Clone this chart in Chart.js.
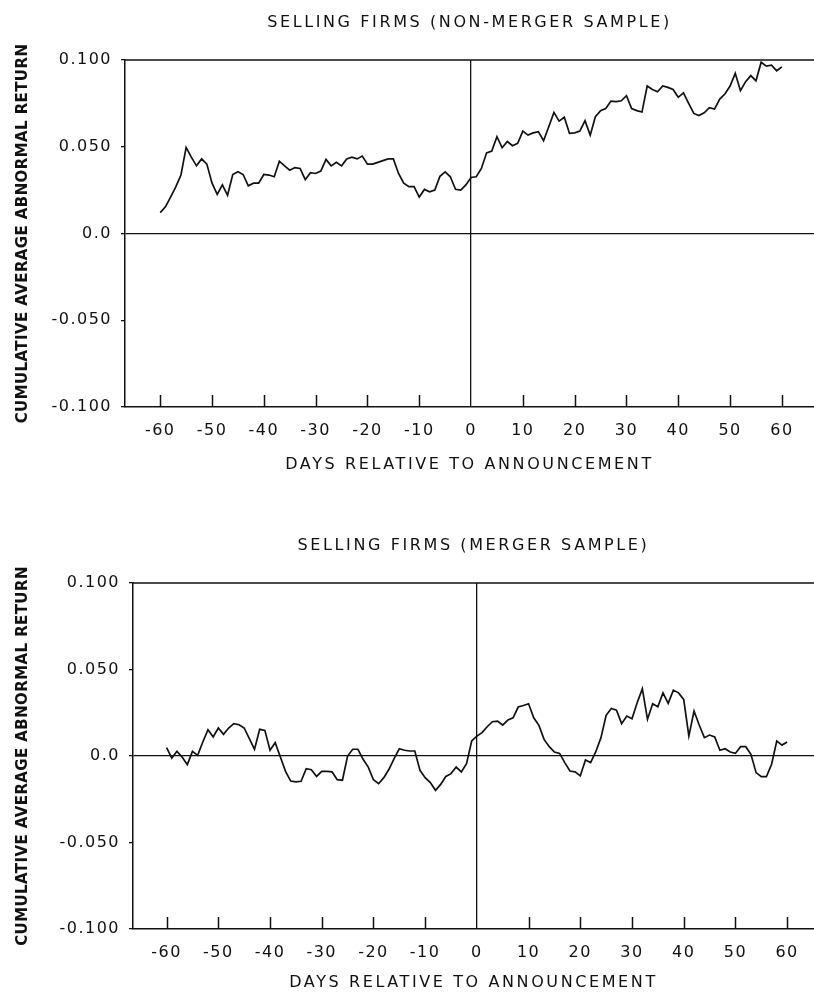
<!DOCTYPE html>
<html>
<head>
<meta charset="utf-8">
<title>Selling firms CAR</title>
<script src="https://cdn.jsdelivr.net/npm/chart.js@4"></script>
<style>
  body { margin: 0; background: #fff; width: 814px; height: 992px; overflow: hidden; position: relative; }
  .box { position: absolute; left: 0; width: 814px; }
</style>
</head>
<body>
<div class="box" style="top:0;height:477px"><canvas id="chartTop"></canvas></div>
<div class="box" style="top:523px;height:469px"><canvas id="chartBottom"></canvas></div>
<script>
// 横軸: 発表日からの日数
const days = [];
for (let d = -60; d <= 60; d++) days.push(d);
const xTicks = [-60, -50, -40, -30, -20, -10, 0, 10, 20, 30, 40, 50, 60];
const yTicks = [-0.1, -0.05, 0, 0.05, 0.1];
const yTickLabels = ["-0.100", "-0.050", "0.0", "0.050", "0.100"];

// 上: 非合併サンプル (day -60 .. 60)
const nonMerger = [
  0.012, 0.0154, 0.021, 0.0269, 0.0337, 0.0496, 0.044, 0.039, 0.043, 0.040,
  0.029, 0.0225, 0.028, 0.022, 0.034, 0.0356, 0.034, 0.0275, 0.029, 0.029,
  0.034, 0.0337, 0.0327, 0.0417, 0.039, 0.0365, 0.038, 0.0375, 0.031, 0.035,
  0.0346, 0.036, 0.0427, 0.039, 0.041, 0.039, 0.043, 0.044, 0.043, 0.0446,
  0.040, 0.040, 0.041, 0.042, 0.043, 0.043, 0.0346, 0.029, 0.027, 0.027,
  0.021, 0.0254, 0.024, 0.025, 0.033, 0.0355, 0.0327, 0.0255, 0.025, 0.028,
  0.0323,
  0.0327, 0.0375, 0.0465, 0.0475, 0.0558, 0.0494, 0.053, 0.0506, 0.052, 0.059,
  0.0567, 0.058, 0.0587, 0.0535, 0.0615, 0.0698, 0.0648, 0.067, 0.0577, 0.058,
  0.059, 0.065, 0.0567, 0.0673, 0.0708, 0.072, 0.0763, 0.076, 0.0765, 0.0794,
  0.072, 0.0708, 0.070, 0.085, 0.083, 0.0817, 0.085, 0.0842, 0.083, 0.0785,
  0.081, 0.075, 0.0692, 0.068, 0.0696, 0.0725, 0.0717, 0.0775, 0.0804, 0.085,
  0.0923, 0.0823, 0.0875, 0.091, 0.088, 0.0987, 0.0965, 0.097, 0.0938, 0.096
];

// 下: 合併サンプル (day -60 .. 60)
const merger = [
  0.0048, -0.0012, 0.0027, -0.0006, -0.005, 0.0027, 0.0004, 0.0081, 0.0152, 0.011,
  0.0162, 0.0125, 0.0162, 0.0187, 0.0181, 0.0162, 0.010, 0.0039, 0.0154, 0.0148,
  0.0033, 0.0077, -0.0006, -0.0089, -0.0145, -0.015, -0.0146, -0.0073, -0.0079, -0.0118,
  -0.0089, -0.0089, -0.0092, -0.0137, -0.014, 0.0, 0.0039, 0.0039, -0.0019, -0.0064,
  -0.0137, -0.016, -0.0125, -0.0077, -0.0015, 0.0042, 0.0033, 0.0029, 0.0029, -0.0083,
  -0.0125, -0.0154, -0.0198, -0.0164, -0.0118, -0.0102, -0.0064, -0.0092, -0.0044, 0.0087,
  0.0115,
  0.0135, 0.0169, 0.0198, 0.0202, 0.0179, 0.0208, 0.0221, 0.0283, 0.0292, 0.0302,
  0.0221, 0.0177, 0.0096, 0.0054, 0.0023, 0.0015, -0.0038, -0.0087, -0.0092, -0.0115,
  -0.0023, -0.0038, 0.0025, 0.0106, 0.0235, 0.0275, 0.0265, 0.0187, 0.0231, 0.0215,
  0.0308, 0.0388, 0.0212, 0.0302, 0.0285, 0.0365, 0.0304, 0.0381, 0.0365, 0.0327,
  0.0115, 0.026, 0.0179, 0.0106, 0.0121, 0.011, 0.0033, 0.0042, 0.0023, 0.0015,
  0.0054, 0.0054, 0.001, -0.0096, -0.0119, -0.0119, -0.0048, 0.0087, 0.0063, 0.0081
];

const INK = "#111";
const FONT = "'DejaVu Sans', sans-serif";

// 文字間隔を付けて描くためのラッパー
function spaced(fn, ls) {
  return function (...args) {
    const c = this.ctx;
    const prev = c.letterSpacing;
    c.letterSpacing = ls;
    fn.apply(this, args);
    c.letterSpacing = prev;
  };
}

function spaceScale(s, titleLs) {
  if (s._spaced) return;
  s._spaced = true;
  const proto = Object.getPrototypeOf(s);
  s.drawLabels = spaced(proto.drawLabels, "1.5px");
  s.drawTitle = spaced(proto.drawTitle, titleLs);
}

// 枠の上辺と内向きの目盛りを描く
const framePlugin = {
  id: "frame",
  beforeDraw(chart) {
    const t = chart.titleBlock;
    if (t && !t._spaced) {
      t._spaced = true;
      t.draw = spaced(Object.getPrototypeOf(t).draw, "2.6px");
    }
  },
  afterDraw(chart) {
    const { ctx, chartArea: a, scales } = chart;
    ctx.save();
    ctx.strokeStyle = INK;
    ctx.lineWidth = 1.5;
    ctx.beginPath();
    ctx.moveTo(a.left, a.top);
    ctx.lineTo(a.right, a.top);
    xTicks.forEach(v => {
      if (v === 0) return;
      const px = Math.round(scales.x.getPixelForValue(v)) + 0.5;
      ctx.moveTo(px, a.bottom);
      ctx.lineTo(px, a.bottom - 12);
    });
    ctx.stroke();
    ctx.restore();
  }
};

function makeChart(id, title, values, xMin, xMax, yWidth, xHeight, xTitlePad) {
  const ctx = document.getElementById(id).getContext("2d");
  return new Chart(ctx, {
    type: "line",
    data: {
      datasets: [{
        data: values.map((v, i) => ({ x: days[i], y: v })),
        borderColor: INK,
        borderWidth: 1.7,
        pointRadius: 0,
        fill: false,
        tension: 0
      }]
    },
    options: {
      responsive: true,
      maintainAspectRatio: false,
      animation: false,
      layout: { padding: 0 },
      plugins: {
        legend: { display: false },
        tooltip: { enabled: false },
        title: {
          display: true,
          text: title,
          fullSize: false,
          color: INK,
          font: { family: FONT, size: 16, weight: "normal" },
          padding: { top: 13, bottom: 27.8 }
        }
      },
      scales: {
        x: {
          type: "linear",
          min: xMin,
          max: xMax,
          afterBuildTicks: s => { s.ticks = xTicks.map(v => ({ value: v })); },
          afterFit: s => { s.height = xHeight; spaceScale(s, "2.6px"); },
          ticks: { color: INK, font: { family: FONT, size: 16 }, padding: 14, callback: v => String(v) },
          grid: {
            drawTicks: false,
            lineWidth: 1.3,
            color: c => (c.tick && c.tick.value === 0 ? INK : "rgba(0,0,0,0)")
          },
          border: { color: INK, width: 1.5 },
          title: {
            display: true,
            text: "DAYS RELATIVE TO ANNOUNCEMENT",
            color: INK,
            font: { family: FONT, size: 16 },
            padding: { top: 0, bottom: xTitlePad }
          }
        },
        y: {
          min: -0.1,
          max: 0.1,
          afterBuildTicks: s => { s.ticks = yTicks.map(v => ({ value: v })); },
          afterFit: s => { s.width = yWidth; spaceScale(s, "0.4px"); },
          ticks: { color: INK, font: { family: FONT, size: 16 }, padding: 9, callback: (v, i) => yTickLabels[i] },
          grid: {
            drawTicks: true,
            tickLength: 4,
            tickColor: INK,
            lineWidth: 1.3,
            color: c => (c.tick && c.tick.value === 0 ? INK : "rgba(0,0,0,0)")
          },
          border: { color: INK, width: 1.5 },
          title: {
            display: true,
            text: "CUMULATIVE AVERAGE ABNORMAL RETURN",
            color: INK,
            font: { family: FONT, size: 15, weight: "bold" },
            padding: { top: 14, bottom: 0 }
          }
        }
      }
    },
    plugins: [framePlugin]
  });
}

makeChart("chartTop", "SELLING FIRMS (NON-MERGER SAMPLE)", nonMerger, -66.8, 66.2, 125, 70, 3);
makeChart("chartBottom", "SELLING FIRMS (MERGER SAMPLE)", merger, -66.5, 65.2, 133, 63, 0);
</script>
</body>
</html>
